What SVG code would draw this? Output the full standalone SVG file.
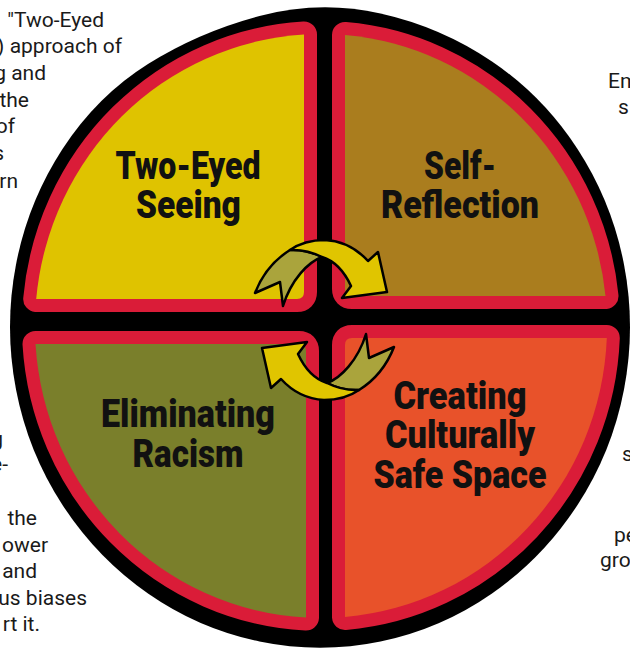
<svg xmlns="http://www.w3.org/2000/svg" width="630" height="651" viewBox="0 0 630 651">
<style>
.q{stroke:#DA1C38;stroke-width:26;stroke-linejoin:round;paint-order:stroke}
.lbl{font-family:Roboto,"Liberation Sans",sans-serif;font-weight:900;font-size:38px;fill:#111;text-anchor:middle}
.side{font-family:Roboto,"Liberation Sans",sans-serif;font-size:21px;fill:#1a1a1a}
.r{text-anchor:end}
.arr{stroke:#000;stroke-width:2.5;stroke-linejoin:round}
</style>
<rect width="630" height="651" fill="#fff"/>
<g id="side-text">
<text class="side r" x="104" y="27">"Two-Eyed</text>
<text class="side r" x="122" y="53">) approach of</text>
<text class="side r" x="46" y="80">g and</text>
<text class="side r" x="29" y="107">the</text>
<text class="side r" x="15" y="133">of</text>
<text class="side r" x="4" y="160">s</text>
<text class="side r" x="18" y="188">rn</text>
<text class="side r" x="3" y="446">g</text>
<text class="side r" x="8" y="471">e-</text>
<text class="side r" x="37" y="525">the</text>
<text class="side r" x="48" y="551.5">ower</text>
<text class="side r" x="37" y="578">and</text>
<text class="side r" x="87" y="604.5">us biases</text>
<text class="side r" x="40" y="631">rt it.</text>
<text class="side" x="608" y="88">Em</text>
<text class="side" x="618" y="114">s</text>
<text class="side" x="622" y="461">s</text>
<text class="side" x="614" y="542">pe</text>
<text class="side" x="600" y="567">gro</text>
</g>
<path id="wheel" fill="#000" d="M259.5,16 Q320,0 380.5,13.5 Q441,27 492,61.5 Q543,96 577.5,149 Q612,202 624,264.5 Q636,327 624,389.5 Q612,452 577.5,505 Q543,558 492,593.5 Q441,629 380.5,641.5 Q320,654 259.5,641.5 Q199,629 148,593.5 Q97,558 62.5,505 Q28,452 16,389.5 Q4,327 16,264.5 Q28,202 62.5,149 Q97,96 148,64 Q199,32 259.5,16 Z"/>
<g id="two-eyed-seeing">
<path class="q" fill="#DFC300" d="M304,292 L304,34.5 A286,292 0 0 0 36.2,299 L297,299 Q304,299 304,292 Z"/>
<text class="lbl" x="188" y="178.5" textLength="145" lengthAdjust="spacingAndGlyphs">Two-Eyed</text>
<text class="lbl" x="188.4" y="218" textLength="105" lengthAdjust="spacingAndGlyphs">Seeing</text>
</g>
<g id="self-reflection">
<path class="q" fill="#AA7D1E" d="M345,289 L345,35 A286,292 0 0 1 605.5,296 L352,296 Q345,296 345,289 Z"/>
<text class="lbl" x="460" y="178.5" textLength="72" lengthAdjust="spacingAndGlyphs">Self-</text>
<text class="lbl" x="460" y="218" textLength="158" lengthAdjust="spacingAndGlyphs">Reflection</text>
</g>
<g id="eliminating-racism">
<path class="q" fill="#7A7F2B" d="M306,351 Q306,344 299,344 L35.5,344 A286,292 0 0 0 306,617.6 Z"/>
<text class="lbl" x="188" y="426.7" textLength="174" lengthAdjust="spacingAndGlyphs">Eliminating</text>
<text class="lbl" x="188" y="467" textLength="111" lengthAdjust="spacingAndGlyphs">Racism</text>
</g>
<g id="culturally-safe-space">
<path class="q" fill="#E8522A" d="M345,345 Q345,338 352,338 L606.8,338 A286,292 0 0 1 345,617 Z"/>
<text class="lbl" x="460" y="409" textLength="133" lengthAdjust="spacingAndGlyphs">Creating</text>
<text class="lbl" x="460" y="448" textLength="150" lengthAdjust="spacingAndGlyphs">Culturally</text>
<text class="lbl" x="460" y="488" textLength="173" lengthAdjust="spacingAndGlyphs">Safe Space</text>
</g>
<g id="connectors">
<g id="arrow-top">
<path class="arr" fill="#AAA43C" d="M255,293 C262,275 274,260 290,250 Q306,249 322,257 C308,262 291,280 283,306 L280,282 Z"/>
<path class="arr" fill="#E0C500" d="M290,250 C300,243 312,240 325,240 C343,241 358,250 368,261 L378,252 L387,292 L342,298 L351,286 C345,273 335,261 322,257 Q306,249 290,250 Z"/>
</g>
<use href="#arrow-top" transform="rotate(180 324.5 320)"/>
</g>
</svg>
